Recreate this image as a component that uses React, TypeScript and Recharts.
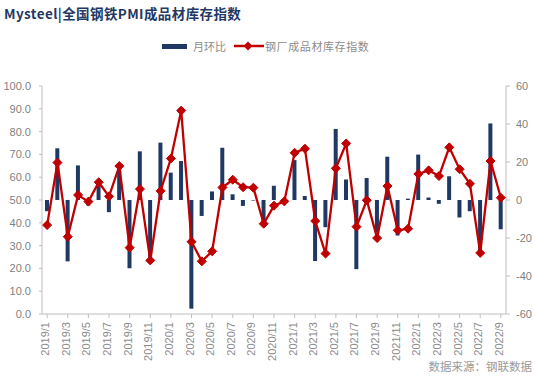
import React from 'react';
import {
  ComposedChart,
  Bar,
  Line,
  XAxis,
  YAxis,
  Legend,
} from 'recharts';

const months = [
  '2019/1', '2019/2', '2019/3', '2019/4', '2019/5', '2019/6', '2019/7', '2019/8', '2019/9', '2019/10', '2019/11', '2019/12',
  '2020/1', '2020/2', '2020/3', '2020/4', '2020/5', '2020/6', '2020/7', '2020/8', '2020/9', '2020/10', '2020/11', '2020/12',
  '2021/1', '2021/2', '2021/3', '2021/4', '2021/5', '2021/6', '2021/7', '2021/8', '2021/9', '2021/10', '2021/11', '2021/12',
  '2022/1', '2022/2', '2022/3', '2022/4', '2022/5', '2022/6', '2022/7', '2022/8', '2022/9',
];

// 月环比 (right axis)
const momChange = [
  -5.9, 27.2, -32.3, 18.2, -2.9, 9.2, -6.4, 17.4, -35.9, 25.6, -32.6, 30.2,
  14.4, 20.5, -57.2, -8.4, 4.5, 27.5, 3.0, -3.1, -0.3, -12.1, 7.5, 0.5,
  21.0, 2.1, -32.1, -14.3, 37.4, 10.8, -36.4, 11.6, -17.0, 22.8, -18.7, 0.7,
  23.9, 1.3, -2.0, 12.5, -9.2, -5.9, -27.0, 40.3, -15.4,
];

// 钢厂成品材库存指数 (left axis)
const stockIndex = [
  39.0, 66.4, 33.9, 52.2, 49.3, 57.8, 51.6, 64.9, 29.1, 54.8, 23.5, 54.0,
  68.2, 89.2, 31.7, 23.1, 27.5, 55.5, 58.9, 55.6, 55.4, 39.6, 47.5, 49.4,
  70.7, 72.5, 40.8, 26.5, 63.9, 74.8, 38.3, 49.9, 33.3, 56.1, 36.7, 37.4,
  61.4, 63.0, 60.5, 73.1, 63.5, 57.1, 26.8, 67.1, 51.0,
];

const leftTicks = [0, 10, 20, 30, 40, 50, 60, 70, 80, 90, 100];
const rightTicks = [-60, -40, -20, 0, 20, 40, 60];

const data = months.map((m, i) => ({
  month: m,
  mom: momChange[i],
  index: stockIndex[i],
}));

const barColor = '#1F3864';
const lineColor = '#C00000';
const axisColor = '#BFBFBF';
const textColor = '#7F7F7F';
const cjkFont = '"Noto Sans CJK SC", sans-serif';
const numFont = '"Liberation Sans", Arial, sans-serif';

const Diamond = (props: any) => {
  const { cx, cy, index } = props;
  if (cx == null || cy == null) return null;
  const r = 4.5;
  return (
    <polygon
      key={`d-${index}`}
      points={`${cx},${cy - r} ${cx + r},${cy} ${cx},${cy + r} ${cx - r},${cy}`}
      fill={lineColor}
      stroke={lineColor}
      strokeWidth={1}
    />
  );
};

const MonthTick = (props: any) => {
  const { x, y, payload } = props;
  return (
    <g transform={`translate(${x},${y})`}>
      <text
        x={0}
        y={0}
        dy={2}
        textAnchor="end"
        transform="rotate(-90)"
        fill="#8c8c8c"
        fontSize={11}
        fontFamily={numFont}
      >
        {payload.value}
      </text>
    </g>
  );
};

const renderLegend = () => (
  <div
    style={{
      display: 'flex',
      justifyContent: 'flex-start',
      alignItems: 'center',
      fontFamily: cjkFont,
      fontSize: 11,
      color: '#8c8c8c',
      paddingLeft: 162,
    }}
  >
    <span style={{ display: 'inline-block', width: 25, height: 5, background: barColor, marginRight: 6 }} />
    <span style={{ marginRight: 8 }}>月环比</span>
    <svg width={30} height={10} style={{ marginRight: 1 }}>
      <line x1={0} y1={5} x2={30} y2={5} stroke={lineColor} strokeWidth={2.5} />
      <polygon points="14,0.5 18.5,5 14,9.5 9.5,5" fill={lineColor} />
    </svg>
    <span style={{ letterSpacing: 0.6 }}>钢厂成品材库存指数</span>
  </div>
);

const App = () => {
  return (
    <div style={{ position: 'absolute', left: 0, top: 0, width: 535, height: 381, background: '#fff' }}>
      <div
        style={{
          position: 'absolute',
          left: 4,
          top: 3,
          fontFamily: cjkFont,
          fontWeight: 'bold',
          fontSize: 13.5,
          letterSpacing: 0.4,
          color: '#1F3864',
          whiteSpace: 'nowrap',
        }}
      >
        Mysteel|全国钢铁PMI成品材库存指数
      </div>

      <ComposedChart
        width={535}
        height={381}
        data={data}
        margin={{ top: 70, right: 0, left: 0, bottom: 7 }}
        barCategoryGap="30%"
      >
        <XAxis
          dataKey="month"
          interval={1}
          height={60}
          stroke={axisColor}
          tickLine={{ stroke: axisColor }}
          tickSize={4}
          tickMargin={4}
          tick={<MonthTick />}
        />
        <YAxis
          yAxisId="left"
          orientation="left"
          domain={[0, 100]}
          ticks={leftTicks}
          width={42}
          stroke={axisColor}
          tickSize={3}
          tickMargin={8}
          tickFormatter={(v: number) => v.toFixed(1)}
          tick={{ fill: textColor, fontSize: 11, fontFamily: numFont }}
        />
        <YAxis
          yAxisId="right"
          orientation="right"
          domain={[-60, 60]}
          ticks={rightTicks}
          width={29}
          stroke={axisColor}
          tickSize={4}
          tickMargin={6}
          tick={{ fill: textColor, fontSize: 11, fontFamily: numFont }}
        />
        <Legend
          verticalAlign="top"
          content={renderLegend}
          wrapperStyle={{ top: 38, left: 0, width: 535 }}
        />
        <Bar
          yAxisId="right"
          dataKey="mom"
          name="月环比"
          fill={barColor}
          barSize={4}
          isAnimationActive={false}
        />
        <Line
          yAxisId="left"
          dataKey="index"
          name="钢厂成品材库存指数"
          type="linear"
          stroke={lineColor}
          strokeWidth={2.3}
          dot={Diamond}
          activeDot={false}
          isAnimationActive={false}
        />
      </ComposedChart>

      <div
        style={{
          position: 'absolute',
          right: 3,
          top: 358,
          fontFamily: cjkFont,
          fontSize: 11.5,
          color: '#9a9a9a',
          whiteSpace: 'nowrap',
        }}
      >
        数据来源：钢联数据
      </div>
    </div>
  );
};

export default App;
